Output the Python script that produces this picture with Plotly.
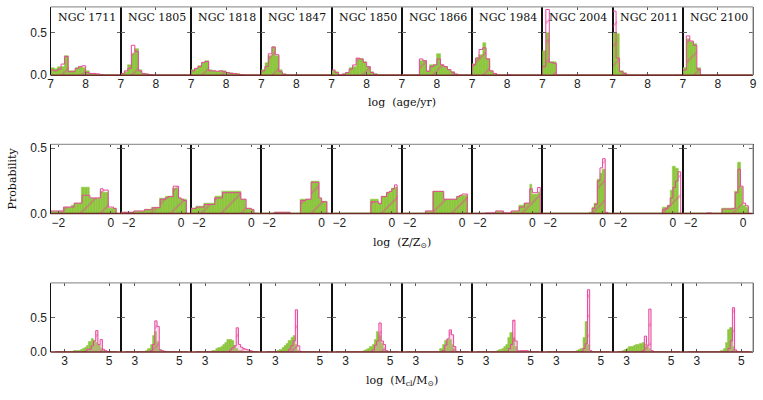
import numpy as np
import plotly.graph_objects as go

CLUSTERS = ["NGC 1711", "NGC 1805", "NGC 1818", "NGC 1847", "NGC 1850",
            "NGC 1866", "NGC 1984", "NGC 2004", "NGC 2011", "NGC 2100"]

AGE_EDGES = [7.0, 7.1, 7.2, 7.3, 7.4, 7.5, 7.6, 7.7, 7.8, 7.9, 8.0,
             8.1, 8.2, 8.3, 8.4, 8.5, 8.6, 8.7, 8.8, 8.9, 9.0]
MET_EDGES = [-2.3, -2.2, -2.1, -2.0, -1.9, -1.8, -1.7, -1.6, -1.5, -1.4, -1.3,
             -1.2, -1.1, -1.0, -0.9, -0.8, -0.7, -0.6, -0.5, -0.4, -0.3, -0.2,
             -0.1, 0.0, 0.1, 0.2, 0.3]
MASS_EDGES = [2.6, 2.7, 2.8, 2.9, 3.0, 3.1, 3.2, 3.3, 3.4, 3.5, 3.6, 3.7, 3.8,
              3.9, 4.0, 4.1, 4.2, 4.3, 4.4, 4.5, 4.6, 4.7, 4.8, 4.9, 5.0, 5.1,
              5.2, 5.3, 5.4]

# log(age/yr) probabilities (green = filled, pink = hatched)
AGE_G = [
    [0.08, 0.07, 0.095, 0.10, 0.22, 0.05, 0.05, 0.09, 0.10, 0.09, 0.045, 0.02, 0.01, 0.005, 0, 0, 0, 0, 0, 0],
    [0.02, 0.04, 0.12, 0.25, 0.31, 0.06, 0.02, 0.01, 0.005, 0, 0, 0, 0, 0, 0, 0, 0, 0, 0, 0],
    [0.06, 0.07, 0.11, 0.14, 0.17, 0.06, 0.05, 0.04, 0.05, 0.045, 0.03, 0.025, 0.02, 0.01, 0.005, 0, 0, 0, 0, 0],
    [0.06, 0.14, 0.23, 0.33, 0.23, 0.065, 0.01, 0, 0, 0, 0, 0, 0, 0, 0, 0, 0, 0, 0, 0],
    [0.05, 0.04, 0, 0.01, 0.03, 0.09, 0.10, 0.19, 0.19, 0.16, 0.10, 0.035, 0.01, 0, 0, 0, 0, 0, 0, 0],
    [0, 0, 0, 0, 0, 0.17, 0.17, 0.045, 0.12, 0.12, 0.25, 0.12, 0.10, 0.065, 0.035, 0.01, 0, 0, 0, 0],
    [0.13, 0.20, 0.24, 0.38, 0.19, 0.05, 0.02, 0, 0, 0, 0, 0, 0, 0, 0, 0, 0, 0, 0, 0],
    [0.28, 0.50, 0.16, 0.16, 0, 0, 0, 0, 0, 0, 0, 0, 0, 0, 0, 0, 0, 0, 0, 0],
    [0.50, 0.48, 0.045, 0.025, 0, 0, 0, 0, 0, 0, 0, 0, 0, 0, 0, 0, 0, 0, 0, 0],
    [0.08, 0.42, 0.39, 0.37, 0.08, 0, 0, 0, 0, 0, 0, 0, 0, 0, 0, 0, 0, 0, 0, 0],
]
AGE_P = [
    [0.06, 0.05, 0.07, 0.13, 0.22, 0.04, 0.04, 0.08, 0.10, 0.11, 0.03, 0.02, 0.02, 0.015, 0.005, 0, 0, 0, 0, 0],
    [0.02, 0.05, 0.08, 0.35, 0.28, 0.05, 0.02, 0.01, 0.005, 0, 0, 0, 0, 0, 0, 0, 0, 0, 0, 0],
    [0.05, 0.08, 0.10, 0.15, 0.16, 0.05, 0.05, 0.045, 0.05, 0.04, 0.03, 0.02, 0.02, 0.01, 0.005, 0, 0, 0, 0, 0],
    [0.05, 0.10, 0.25, 0.33, 0.24, 0.04, 0.01, 0, 0, 0, 0, 0, 0, 0, 0, 0, 0, 0, 0, 0],
    [0.06, 0.03, 0, 0.01, 0.03, 0.07, 0.12, 0.20, 0.19, 0.15, 0.10, 0.03, 0.01, 0, 0, 0, 0, 0, 0, 0],
    [0, 0, 0, 0, 0, 0.19, 0.17, 0.045, 0.10, 0.12, 0.19, 0.12, 0.10, 0.065, 0.035, 0.01, 0, 0, 0, 0],
    [0.12, 0.20, 0.30, 0.32, 0.19, 0.05, 0.02, 0, 0, 0, 0.005, 0, 0, 0, 0, 0, 0, 0, 0, 0],
    [0.10, 0.77, 0.15, 0.14, 0, 0, 0, 0, 0, 0, 0, 0, 0, 0, 0, 0, 0, 0, 0, 0],
    [0.75, 0.20, 0.04, 0.02, 0, 0, 0, 0, 0, 0, 0, 0, 0, 0, 0, 0, 0, 0, 0, 0],
    [0.06, 0.46, 0.40, 0.35, 0.07, 0, 0, 0, 0, 0, 0, 0, 0, 0, 0, 0, 0, 0, 0, 0],
]

# log(Z/Zsun) probabilities
MET_G = [
    [0.02, 0.02, 0.02, 0.02, 0.02, 0.05, 0.05, 0.05, 0.06, 0.08, 0.08, 0.08, 0.20, 0.20, 0.20, 0.12, 0.12, 0.12, 0.12, 0.17, 0.16, 0.16, 0.04, 0.04, 0.04, 0],
    [0.01, 0.01, 0.01, 0.01, 0.01, 0.02, 0.02, 0.02, 0.02, 0.03, 0.03, 0.03, 0.045, 0.045, 0.045, 0.12, 0.12, 0.13, 0.13, 0.13, 0.19, 0.19, 0.12, 0.11, 0.11, 0],
    [0.04, 0.04, 0.055, 0.055, 0.055, 0.08, 0.08, 0.08, 0.08, 0.13, 0.13, 0.13, 0.17, 0.17, 0.17, 0.17, 0.17, 0.17, 0.17, 0.11, 0.11, 0.04, 0.04, 0.03, 0, 0],
    [0, 0, 0, 0, 0, 0.01, 0.01, 0.01, 0.01, 0.01, 0.01, 0, 0, 0, 0, 0.11, 0.11, 0.11, 0.11, 0.25, 0.25, 0.25, 0.12, 0.09, 0.09, 0],
    [0, 0, 0, 0, 0, 0, 0, 0, 0, 0, 0, 0, 0, 0, 0, 0.11, 0.11, 0.11, 0.08, 0.13, 0.13, 0.16, 0.16, 0.19, 0.20, 0],
    [0, 0, 0, 0, 0, 0, 0, 0, 0, 0.02, 0.02, 0.02, 0.17, 0.17, 0.17, 0.17, 0.11, 0.11, 0.11, 0.11, 0.11, 0.13, 0.14, 0.14, 0.14, 0],
    [0, 0, 0, 0, 0, 0.005, 0.005, 0.005, 0.005, 0.02, 0.02, 0.02, 0.005, 0.005, 0.005, 0.02, 0.02, 0.02, 0.06, 0.06, 0.08, 0.08, 0.22, 0.15, 0.15, 0.16],
    [0, 0, 0, 0, 0, 0, 0, 0, 0, 0, 0, 0, 0, 0, 0, 0, 0, 0, 0.01, 0.045, 0.08, 0.26, 0.31, 0.34, 0.005, 0],
    [0, 0, 0, 0, 0, 0, 0, 0, 0, 0, 0, 0, 0, 0, 0, 0, 0, 0, 0, 0.045, 0.045, 0.06, 0.18, 0.36, 0.35, 0],
    [0, 0, 0, 0, 0, 0, 0, 0, 0, 0.005, 0.005, 0, 0, 0, 0, 0.04, 0.04, 0.04, 0.04, 0.04, 0.17, 0.39, 0.20, 0.06, 0.05, 0],
]
MET_P = [
    [0.02, 0.02, 0.02, 0.02, 0.02, 0.05, 0.05, 0.05, 0.05, 0.08, 0.08, 0.08, 0.14, 0.14, 0.14, 0.12, 0.12, 0.12, 0.12, 0.19, 0.18, 0.18, 0.05, 0.05, 0.04, 0],
    [0.01, 0.01, 0.01, 0.01, 0.01, 0.02, 0.02, 0.02, 0.02, 0.03, 0.03, 0.03, 0.045, 0.045, 0.045, 0.11, 0.11, 0.12, 0.13, 0.13, 0.21, 0.21, 0.12, 0.11, 0.10, 0],
    [0.04, 0.04, 0.05, 0.05, 0.05, 0.07, 0.07, 0.07, 0.07, 0.12, 0.12, 0.12, 0.16, 0.16, 0.16, 0.16, 0.16, 0.16, 0.16, 0.11, 0.11, 0.04, 0.04, 0.03, 0, 0],
    [0, 0, 0, 0, 0, 0.01, 0.01, 0.01, 0.01, 0.01, 0.01, 0, 0, 0, 0, 0.10, 0.10, 0.11, 0.11, 0.24, 0.24, 0.24, 0.12, 0.09, 0.09, 0],
    [0, 0, 0, 0, 0, 0, 0, 0, 0, 0, 0, 0, 0, 0, 0, 0.09, 0.09, 0.09, 0.075, 0.13, 0.13, 0.16, 0.17, 0.19, 0.22, 0],
    [0, 0, 0, 0, 0, 0, 0, 0, 0, 0.02, 0.02, 0.02, 0.17, 0.17, 0.17, 0.17, 0.11, 0.11, 0.11, 0.11, 0.11, 0.13, 0.14, 0.15, 0.15, 0],
    [0, 0, 0, 0, 0, 0.005, 0.005, 0.005, 0.005, 0.02, 0.02, 0.02, 0.005, 0.005, 0.005, 0.02, 0.02, 0.02, 0.05, 0.05, 0.08, 0.08, 0.19, 0.16, 0.16, 0.20],
    [0, 0, 0, 0, 0, 0, 0, 0, 0, 0, 0, 0, 0, 0, 0, 0, 0, 0, 0, 0.04, 0.07, 0.25, 0.35, 0.42, 0.01, 0],
    [0, 0, 0, 0, 0, 0, 0, 0, 0, 0, 0, 0, 0, 0, 0, 0, 0, 0, 0, 0.03, 0.04, 0.06, 0.12, 0.20, 0.25, 0.32],
    [0, 0, 0, 0, 0, 0, 0, 0, 0, 0.005, 0.005, 0, 0, 0, 0, 0.035, 0.035, 0.035, 0.035, 0.04, 0.16, 0.34, 0.21, 0.08, 0.06, 0],
]

# log(Mcl/Msun) probabilities
MASS_G = [
    [0, 0, 0, 0, 0.003, 0.005, 0.007, 0.01, 0.012, 0.015, 0.02, 0.03, 0.04, 0.06, 0.09, 0.15, 0.19, 0.16, 0.13, 0.10, 0.04, 0.02, 0.005, 0, 0, 0, 0, 0],
    [0, 0, 0, 0, 0, 0, 0.003, 0.005, 0.01, 0.02, 0.05, 0.11, 0.23, 0.29, 0.15, 0.03, 0.005, 0, 0, 0, 0, 0, 0, 0, 0, 0, 0, 0],
    [0, 0, 0, 0, 0.003, 0.005, 0.01, 0.015, 0.02, 0.04, 0.06, 0.08, 0.11, 0.14, 0.17, 0.18, 0.16, 0.09, 0.04, 0.02, 0.01, 0, 0, 0, 0, 0, 0, 0],
    [0, 0, 0.003, 0.005, 0.01, 0.015, 0.03, 0.06, 0.09, 0.12, 0.16, 0.21, 0.23, 0.10, 0.02, 0, 0, 0, 0, 0, 0, 0, 0, 0, 0, 0, 0, 0],
    [0, 0, 0, 0, 0, 0, 0, 0, 0.003, 0.005, 0.008, 0.01, 0.02, 0.03, 0.05, 0.07, 0.11, 0.18, 0.29, 0.23, 0.12, 0.03, 0.005, 0, 0, 0, 0, 0],
    [0, 0, 0, 0, 0, 0, 0, 0, 0, 0, 0, 0, 0, 0, 0.01, 0.05, 0.10, 0.16, 0.18, 0.17, 0.10, 0.03, 0, 0, 0, 0, 0, 0],
    [0, 0, 0, 0, 0, 0, 0.003, 0.005, 0.01, 0.015, 0.025, 0.04, 0.07, 0.11, 0.20, 0.28, 0.20, 0.08, 0.01, 0, 0, 0, 0, 0, 0, 0, 0, 0],
    [0, 0, 0, 0, 0, 0, 0, 0, 0, 0.003, 0.005, 0.008, 0.01, 0.015, 0.025, 0.05, 0.20, 0.44, 0.10, 0.01, 0, 0, 0, 0, 0, 0, 0, 0],
    [0.003, 0.01, 0.02, 0.03, 0.05, 0.07, 0.08, 0.09, 0.10, 0.11, 0.12, 0.13, 0.10, 0.07, 0.04, 0.01, 0, 0, 0, 0, 0, 0, 0, 0, 0, 0, 0, 0],
    [0, 0, 0, 0, 0, 0, 0, 0, 0, 0, 0, 0, 0.003, 0.005, 0.01, 0.02, 0.05, 0.14, 0.32, 0.35, 0.08, 0.01, 0, 0, 0, 0, 0, 0],
]
MASS_P = [
    [0, 0, 0, 0, 0, 0, 0, 0, 0, 0, 0, 0, 0, 0.01, 0.04, 0.04, 0.09, 0.16, 0.31, 0.11, 0.18, 0.04, 0.02, 0.005, 0, 0, 0, 0],
    [0, 0, 0, 0, 0, 0, 0, 0, 0, 0, 0, 0.02, 0.11, 0.45, 0.37, 0.03, 0.02, 0.01, 0, 0, 0, 0, 0, 0, 0, 0, 0, 0],
    [0, 0, 0, 0, 0, 0, 0, 0, 0, 0, 0, 0, 0, 0, 0, 0.03, 0.06, 0.09, 0.35, 0.11, 0.07, 0.05, 0.04, 0.03, 0.02, 0.01, 0, 0],
    [0, 0, 0, 0, 0, 0, 0, 0, 0, 0, 0.04, 0.09, 0.16, 0.61, 0.09, 0.01, 0, 0, 0, 0, 0, 0, 0, 0, 0, 0, 0, 0],
    [0, 0, 0, 0, 0, 0, 0, 0, 0, 0, 0, 0, 0, 0, 0, 0, 0.03, 0.10, 0.16, 0.42, 0.16, 0.11, 0.02, 0, 0, 0, 0, 0],
    [0, 0, 0, 0, 0, 0, 0, 0, 0, 0, 0, 0, 0, 0, 0, 0, 0.02, 0.10, 0.19, 0.32, 0.25, 0.08, 0.01, 0, 0, 0, 0, 0],
    [0, 0, 0, 0, 0, 0, 0, 0, 0, 0, 0, 0, 0, 0, 0.05, 0.11, 0.46, 0.16, 0.02, 0.02, 0.02, 0.02, 0.02, 0.01, 0, 0, 0, 0],
    [0, 0, 0, 0, 0, 0, 0, 0, 0, 0, 0, 0, 0, 0, 0, 0, 0.05, 0.12, 0.90, 0.02, 0, 0, 0, 0, 0, 0, 0, 0],
    [0, 0, 0, 0, 0, 0, 0, 0, 0, 0, 0, 0.02, 0.23, 0.10, 0.62, 0.02, 0, 0, 0, 0, 0, 0, 0, 0, 0, 0, 0, 0],
    [0, 0, 0, 0, 0, 0, 0, 0, 0, 0, 0, 0, 0, 0, 0, 0, 0, 0, 0.05, 0.16, 0.64, 0.03, 0, 0, 0, 0, 0, 0],
]

ROW_TITLES = ["log\u00a0\u00a0(age/yr)", "log\u00a0\u00a0(Z/Z<sub>\u2299</sub>)",
              "log\u00a0\u00a0(M<sub>cl</sub>/M<sub>\u2299</sub>)"]
Y_TITLE = "Probability"

# ---------------- style / layout ----------------
W, H = 763, 400
GREEN = "#8dc63f"
PINK = "#e8459c"
BASE = "#6e2a2a"
LEFT, RIGHT = 48.0, 757.0
PW = (RIGHT - LEFT) / 10
ROW_TOP = [4, 145, 287]
ROW_BOT = [74, 216, 358]
XRANGES = [[7.0, 9.0], [-2.3, 0.38], [2.37, 5.53]]
YRANGES = [[0, 0.8], [0, 0.53], [0, 1.0]]
XTICKS = [[7, 8], [-2, 0], [3, 5]]
TITLE_Y = [102, 246, 388]
SERIF = "DejaVu Serif"
SANS = "Liberation Sans"

rows = [(AGE_EDGES, AGE_G, AGE_P), (MET_EDGES, MET_G, MET_P), (MASS_EDGES, MASS_G, MASS_P)]

fig = go.Figure()
layout = dict(width=W, height=H, margin=dict(l=0, r=0, t=0, b=0), autosize=False,
              paper_bgcolor="white", plot_bgcolor="white", showlegend=False,
              barmode="overlay", bargap=0)
shapes, annotations = [], []

def px(x):
    return x / W

def py(y):
    return 1 - y / H

for r, (edges, gvals, pvals) in enumerate(rows):
    e = np.array(edges)
    centers = (e[:-1] + e[1:]) / 2
    widths = np.diff(e)
    for c in range(10):
        k = r * 10 + c + 1
        xa, ya = ("x" if k == 1 else f"x{k}"), ("y" if k == 1 else f"y{k}")
        g = np.array(gvals[c], dtype=float)
        p = np.array(pvals[c], dtype=float)
        fig.add_trace(go.Bar(x=centers, y=g, width=widths, xaxis=xa, yaxis=ya,
                             marker=dict(color=GREEN, line=dict(color=GREEN, width=0.5)),
                             hoverinfo="skip"))
        fill = "rgba(240,150,200,0.35)" if r == 2 else "rgba(0,0,0,0)"
        fig.add_trace(go.Bar(x=centers, y=p, width=widths, xaxis=xa, yaxis=ya,
                             marker=dict(color=fill, line=dict(width=0),
                                         pattern=dict(shape="/", fgcolor=PINK, size=14,
                                                      solidity=0.12, fillmode="overlay")),
                             hoverinfo="skip"))
        sx = np.concatenate([[e[0]], e, [e[-1]]])
        sy = np.concatenate([[0], p, [p[-1], 0]])
        fig.add_trace(go.Scatter(x=sx, y=sy, xaxis=xa, yaxis=ya, mode="lines",
                                 line=dict(color=PINK, width=1, shape="hv"),
                                 hoverinfo="skip"))
        x0 = LEFT + c * PW
        x1 = x0 + PW
        ticks = XTICKS[r] + ([9] if (r == 0 and c == 9) else [])
        layout["xaxis" if k == 1 else f"xaxis{k}"] = dict(
            domain=[px(x0), px(x1)], range=XRANGES[r], anchor=ya,
            tickvals=ticks, ticktext=[("\u2212" + str(-t)) if t < 0 else str(t) for t in ticks],
            ticks="inside", ticklen=3, tickcolor="#555", mirror="ticks",
            showline=False, showgrid=False, zeroline=False,
            tickfont=dict(family=SANS, size=12, color="#222"))
        layout["yaxis" if k == 1 else f"yaxis{k}"] = dict(
            domain=[py(ROW_BOT[r]), py(ROW_TOP[r])], range=YRANGES[r], anchor=xa,
            tickvals=[0, 0.5], ticktext=["0.0", "0.5"], showticklabels=(c == 0),
            ticks="inside", ticklen=4, tickcolor="#666", mirror="ticks",
            showline=True, linecolor="#111", linewidth=1.3,
            showgrid=False, zeroline=False,
            tickfont=dict(family=SANS, size=12, color="#222"))
        if r == 0:
            annotations.append(dict(text=CLUSTERS[c], x=px(x0 + 5), y=py(15),
                                    xref="paper", yref="paper", xanchor="left",
                                    yanchor="middle", showarrow=False,
                                    font=dict(family=SERIF, size=11, color="#111")))
    # borders of the row
    shapes.append(dict(type="line", xref="paper", yref="paper", x0=px(LEFT), x1=px(RIGHT),
                       y0=py(ROW_TOP[r]), y1=py(ROW_TOP[r]), line=dict(color="#9a9a9a", width=1.2)))
    shapes.append(dict(type="line", xref="paper", yref="paper", x0=px(LEFT), x1=px(RIGHT),
                       y0=py(ROW_BOT[r]), y1=py(ROW_BOT[r]), line=dict(color=BASE, width=1.5)))
    shapes.append(dict(type="line", xref="paper", yref="paper", x0=px(RIGHT), x1=px(RIGHT),
                       y0=py(ROW_BOT[r]), y1=py(ROW_TOP[r]), line=dict(color="#9a9a9a", width=1.3)))
    annotations.append(dict(text=ROW_TITLES[r], x=px((LEFT + RIGHT) / 2), y=py(TITLE_Y[r]),
                            xref="paper", yref="paper", xanchor="center", yanchor="middle",
                            showarrow=False, font=dict(family=SERIF, size=11, color="#111")))

annotations.append(dict(text=Y_TITLE, x=px(10), y=py(180), xref="paper", yref="paper",
                        xanchor="center", yanchor="middle", textangle=-90, showarrow=False,
                        font=dict(family=SERIF, size=11, color="#111")))

layout["shapes"] = shapes
layout["annotations"] = annotations
fig.update_layout(**layout)
fig.write_html("out.html")
